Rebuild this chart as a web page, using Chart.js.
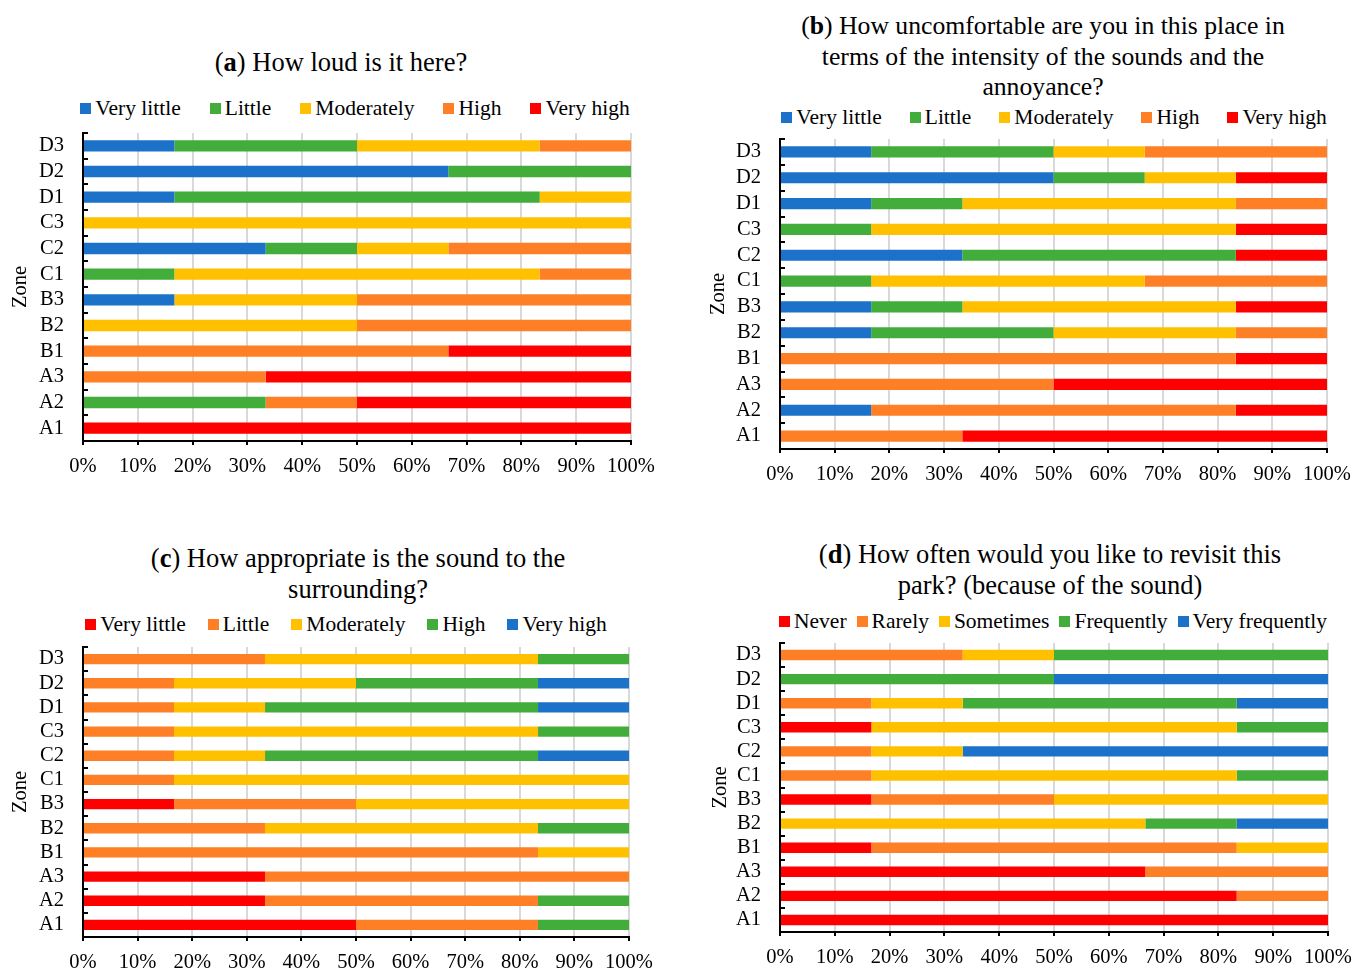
<!DOCTYPE html>
<html lang="en">
<head>
<meta charset="UTF-8">
<title>Sound perception by zone</title>
<script src="https://cdn.jsdelivr.net/npm/chart.js"></script>
<style>
    body {
        margin: 0;
        background: #fff;
        overflow: hidden;
        font-family: 'Liberation Serif', 'Times New Roman', serif;
        color: #000;
    }
    #page { position: relative; width: 1352px; height: 971px; }
    .title {
        position: absolute;
        width: 700px;
        text-align: center;
        font-size: 26.5px;
        line-height: 30.5px;
        white-space: nowrap;
    }
    .legend {
        position: absolute;
        width: 700px;
        height: 24px;
        display: flex;
        align-items: center;
        justify-content: center;
        font-size: 21.5px;
        white-space: nowrap;
    }
    .legend .item { display: flex; align-items: center; }
    .legend i { display: inline-block; width: 11px; height: 11px; margin-right: 4px; }
    canvas { position: absolute; }
</style>
</head>
<body>
<div id="page"></div>

<script>
// zones, top to bottom as drawn
const zones = ['D3', 'D2', 'D1', 'C3', 'C2', 'C1', 'B3', 'B2', 'B1', 'A3', 'A2', 'A1'];
const xTickLabels = ['0%', '10%', '20%', '30%', '40%', '50%', '60%', '70%', '80%', '90%', '100%'];
const levelNames = ['Very little', 'Little', 'Moderately', 'High', 'Very high'];
const revisitNames = ['Never', 'Rarely', 'Sometimes', 'Frequently', 'Very frequently'];

// (a) How loud is it here?  (% of answers)
const loudVeryLittle = [16.67, 66.67, 16.67, 0, 33.33, 0, 16.67, 0, 0, 0, 0, 0];
const loudLittle     = [33.33, 33.33, 66.67, 0, 16.67, 16.67, 0, 0, 0, 0, 33.33, 0];
const loudModerately = [33.33, 0, 16.67, 100, 16.67, 66.67, 33.33, 50, 0, 0, 0, 0];
const loudHigh       = [16.67, 0, 0, 0, 33.33, 16.67, 50, 50, 66.67, 33.33, 16.67, 0];
const loudVeryHigh   = [0, 0, 0, 0, 0, 0, 0, 0, 33.33, 66.67, 50, 100];

// (b) How uncomfortable are you ...
const uncVeryLittle = [16.67, 50, 16.67, 0, 33.33, 0, 16.67, 16.67, 0, 0, 16.67, 0];
const uncLittle     = [33.33, 16.67, 16.67, 16.67, 50, 16.67, 16.67, 33.33, 0, 0, 0, 0];
const uncModerately = [16.67, 16.67, 50, 66.67, 0, 50, 50, 33.33, 0, 0, 0, 0];
const uncHigh       = [33.33, 0, 16.67, 0, 0, 33.33, 0, 16.67, 83.33, 50, 66.67, 33.33];
const uncVeryHigh   = [0, 16.67, 0, 16.67, 16.67, 0, 16.67, 0, 16.67, 50, 16.67, 66.67];

// (c) How appropriate is the sound ...
const appVeryLittle = [0, 0, 0, 0, 0, 0, 16.67, 0, 0, 33.33, 33.33, 50];
const appLittle     = [33.33, 16.67, 16.67, 16.67, 16.67, 16.67, 33.33, 33.33, 83.33, 66.67, 50, 33.33];
const appModerately = [50, 33.33, 16.67, 66.67, 16.67, 83.33, 50, 50, 16.67, 0, 0, 0];
const appHigh       = [16.67, 33.33, 50, 16.67, 50, 0, 0, 16.67, 0, 0, 16.67, 16.67];
const appVeryHigh   = [0, 16.67, 16.67, 0, 16.67, 0, 0, 0, 0, 0, 0, 0];

// (d) How often would you like to revisit ...
const revNever      = [0, 0, 0, 16.67, 0, 0, 16.67, 0, 16.67, 66.67, 83.33, 100];
const revRarely     = [33.33, 0, 16.67, 0, 16.67, 16.67, 33.33, 0, 66.67, 33.33, 16.67, 0];
const revSometimes  = [16.67, 0, 16.67, 66.67, 16.67, 66.67, 50, 66.67, 16.67, 0, 0, 0];
const revFrequently = [50, 50, 50, 16.67, 0, 16.67, 0, 16.67, 0, 0, 0, 0];
const revVeryFreq   = [0, 50, 16.67, 0, 66.67, 0, 0, 16.67, 0, 0, 0, 0];

const blue = '#1B72C8', green = '#43AD3B', yellow = '#FFC000', orange = '#FF7F27', red = '#FF0000';
const font = 'Liberation Serif';
const yAxisW = 83, padTop = 12, xAxisH = 45;

// small tick marks on the inner side of the zone axis
const innerTicks = {
    id: 'innerTicks',
    afterDraw(chart) {
        const { ctx, chartArea, scales: { y } } = chart;
        ctx.save();
        ctx.strokeStyle = '#000';
        ctx.lineWidth = 2;
        for (let i = 0; i <= zones.length; i++) {
            const py = Math.round(y.getPixelForValue(i - 0.5));
            ctx.beginPath();
            ctx.moveTo(chartArea.left, py);
            ctx.lineTo(chartArea.left + 5, py);
            ctx.stroke();
        }
        ctx.restore();
    }
};

const panels = [
    { title: '(<b>a</b>) How loud is it here?', titleX: 341, titleY: 62, titleSize: 26.5,
      names: levelNames, colors: [blue, green, yellow, orange, red],
      series: [loudVeryLittle, loudLittle, loudModerately, loudHigh, loudVeryHigh],
      legendX: 355, legendY: 108, legendGap: 29,
      plot: { l: 83, r: 631, t: 133, b: 441 }, padRight: 40, zoneX: 20, barPct: 0.44 },
    { title: '(<b>b</b>) How uncomfortable are you in this place in<br>terms of the intensity of the sounds and the<br>annoyance?',
      titleX: 1043, titleY: 26, titleSize: 25.7,
      names: levelNames, colors: [blue, green, yellow, orange, red],
      series: [uncVeryLittle, uncLittle, uncModerately, uncHigh, uncVeryHigh],
      legendX: 1054, legendY: 117, legendGap: 28,
      plot: { l: 780, r: 1327, t: 139, b: 449 }, padRight: 25, zoneX: 718, barPct: 0.43 },
    { title: '(<b>c</b>) How appropriate is the sound to the<br>surrounding?', titleX: 358, titleY: 558, titleSize: 26.5,
      names: levelNames, colors: [red, orange, yellow, green, blue],
      series: [appVeryLittle, appLittle, appModerately, appHigh, appVeryHigh],
      legendX: 346, legendY: 624, legendGap: 22,
      plot: { l: 83, r: 629, t: 647, b: 937 }, padRight: 40, zoneX: 20, barPct: 0.43 },
    { title: '(<b>d</b>) How often would you like to revisit this<br>park? (because of the sound)', titleX: 1050, titleY: 554, titleSize: 26.5,
      names: revisitNames, colors: [red, orange, yellow, green, blue],
      series: [revNever, revRarely, revSometimes, revFrequently, revVeryFreq],
      legendX: 1053, legendY: 621, legendGap: 10,
      plot: { l: 780, r: 1328, t: 643, b: 932 }, padRight: 24, zoneX: 720, barPct: 0.43 }
];

function buildPanel(p) {
    const page = document.getElementById('page');

    const title = document.createElement('div');
    title.className = 'title';
    title.innerHTML = p.title;
    title.style.fontSize = p.titleSize + 'px';
    title.style.left = (p.titleX - 350) + 'px';
    title.style.top = (p.titleY - 15) + 'px';
    page.appendChild(title);

    const legend = document.createElement('div');
    legend.className = 'legend';
    legend.style.left = (p.legendX - 350) + 'px';
    legend.style.top = (p.legendY - 12) + 'px';
    legend.style.gap = p.legendGap + 'px';
    p.names.forEach((name, i) => {
        const item = document.createElement('span');
        item.className = 'item';
        item.innerHTML = `<i style="background:${p.colors[i]}"></i>${name}`;
        legend.appendChild(item);
    });
    page.appendChild(legend);

    const left = p.plot.l - yAxisW;
    const top = p.plot.t - padTop;
    const canvas = document.createElement('canvas');
    canvas.width = p.plot.r - left + p.padRight;
    canvas.height = p.plot.b - top + xAxisH;
    canvas.style.left = left + 'px';
    canvas.style.top = top + 'px';
    page.appendChild(canvas);

    new Chart(canvas, {
        type: 'bar',
        data: {
            labels: zones,
            datasets: p.names.map((name, i) => ({
                label: name,
                data: p.series[i],
                backgroundColor: p.colors[i],
                borderWidth: 0,
                barPercentage: p.barPct,
                categoryPercentage: 1
            }))
        },
        options: {
            indexAxis: 'y',
            responsive: false,
            animation: false,
            devicePixelRatio: 1,
            layout: { autoPadding: false, padding: { top: padTop, right: p.padRight, bottom: 0, left: 0 } },
            plugins: { legend: { display: false }, tooltip: { enabled: false } },
            scales: {
                x: {
                    stacked: true,
                    min: 0,
                    max: 100,
                    afterFit: s => { s.height = xAxisH; s.paddingLeft = 0; s.paddingRight = 0; },
                    grid: { color: '#D9D9D9', lineWidth: 2, tickColor: '#000', tickLength: 4, tickWidth: 2 },
                    border: { color: '#000', width: 2 },
                    ticks: {
                        stepSize: 10, padding: 9, color: '#000', maxRotation: 0, autoSkip: false,
                        font: { family: font, size: 20.5 },
                        callback: (v, i) => xTickLabels[i]
                    }
                },
                y: {
                    stacked: true,
                    afterFit: s => { s.width = yAxisW; s.paddingTop = 0; s.paddingBottom = 0; },
                    grid: { drawOnChartArea: false, drawTicks: false },
                    border: { color: '#000', width: 2 },
                    ticks: { padding: 19, color: '#000', autoSkip: false, font: { family: font, size: 20.5 } },
                    title: {
                        display: true, text: 'Zone', color: '#000',
                        font: { family: font, size: 20.5 },
                        padding: { top: p.zoneX - left - 12, bottom: 0 }
                    }
                }
            }
        },
        plugins: [innerTicks]
    });
}

panels.forEach(buildPanel);
</script>
</body>
</html>
